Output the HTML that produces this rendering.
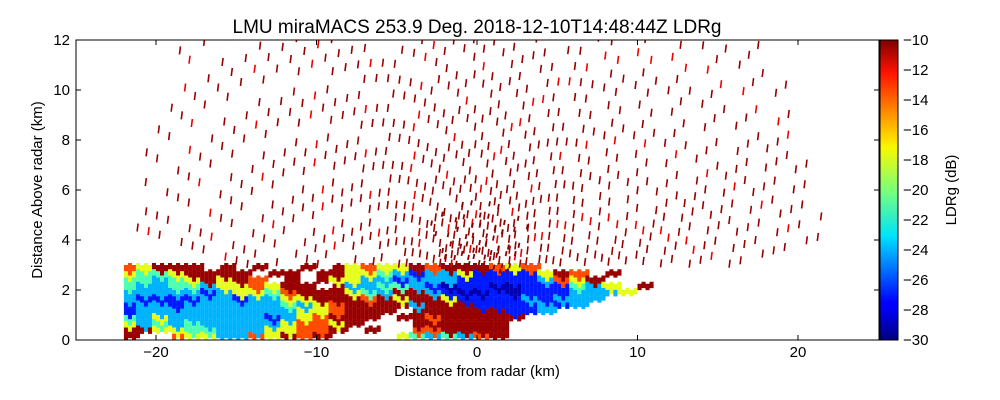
<!DOCTYPE html>
<html><head><meta charset="utf-8"><style>
body{margin:0;background:#fff;font-family:"Liberation Sans","DejaVu Sans",sans-serif}
svg{display:block}
</style></head><body>
<svg id="c" width="1000" height="400" xmlns="http://www.w3.org/2000/svg">
<defs><linearGradient id="jet" x1="0" y1="1" x2="0" y2="0">
<stop offset="0" stop-color="#00007f"/><stop offset="0.11" stop-color="#0000ff"/><stop offset="0.125" stop-color="#0000ff"/><stop offset="0.34" stop-color="#00dcff"/><stop offset="0.35" stop-color="#00e5f7"/><stop offset="0.5" stop-color="#7cff79"/><stop offset="0.64" stop-color="#f7f900"/><stop offset="0.66" stop-color="#ffe800"/><stop offset="0.89" stop-color="#ff1300"/><stop offset="1" stop-color="#7f0000"/></linearGradient>
<clipPath id="pc"><rect x="76" y="40" width="803" height="300"/></clipPath></defs>
<text x="477" y="33" font-size="19" text-anchor="middle">LMU miraMACS 253.9 Deg. 2018-12-10T14:48:44Z  LDRg</text>
<g id="marks" clip-path="url(#pc)"></g>
<rect x="76" y="40" width="803" height="300" fill="none" stroke="#000"/>
<g id="axes" font-size="15"></g>
<text x="477" y="376" font-size="15" text-anchor="middle">Distance from radar (km)</text>
<text transform="translate(42,190) rotate(-90)" font-size="15" text-anchor="middle">Distance Above radar  (km)</text>
<rect x="880" y="40" width="18" height="300" fill="url(#jet)" stroke="#000"/>
<text transform="translate(956,190) rotate(-90)" font-size="15" text-anchor="middle">LDRg (dB)</text>
</svg>
<script>
const xTicks=[-20,-10,0,10,20];
const yTicks=[0,2,4,6,8,10,12];
const cbTicks=[-10,-12,-14,-16,-18,-20,-22,-24,-26,-28,-30];
const layerX0=-22;
const layerRows=[ // rows from y=2.75 down to 0, 0.25 km tall, 1 km columns from x=-22
"oyrrr.r.r..r.ryoyyrorrroyo........",
"yggyrrrr.rr.rryygcbccybbbbyro.r...",
"ggcgyryro.r.ryyccbcccbbbbbcoyr....",
"gccggcyyoyrr.rccggcbnbbnnbbbgcy.r.",
"cccccbcyygorrrygcrrcbnnbnbbbcccy..",
"cbbbbccbccyyrrroryrrybbbbcbccc....",
"bccbccccccgcyorrrrcrrrbbbbcbc.....",
"bccccccccccyyorrr.rrrrrrbbc.......",
"gcyccccccbcyorrr.rrorrrrr.........",
"ycgcgcccccyooyr...rrrrrr..........",
"rryyggcccyyoor.r..oorrrr..........",
"r..oyyccoyror....ygcgcor.........."];
const codeVals={r:-10.5,o:-14,y:-18,g:-21,c:-24,b:-27,n:-29};
const beamAngles=[11,13,15,17,19,21,23,25,28,31,34,37,40,43,46,49,52,55,58,61,64,67,70,73,76,79,82,85,88,91,94,97,100,103,106,109,112,115,118,121,124,127,130,133,136,139,142,145,148,151,154,157,160,163,166,168];
const gateRanges=[3.4,4.1,4.8,5.5,6.2,6.9,7.6,8.3,9.0,9.7,10.4,11.1,11.8,12.5,13.2,13.9,14.6,15.3,16.0,16.7,17.4,18.1,18.8,19.5,20.2,20.9,21.6];
const X=v=>477+v*16.05, Y=v=>340-v*25;
function jet(v){let t=(v+30)/20;t=Math.max(0,Math.min(1,t));
 const f=(a)=>Math.max(0,Math.min(1,1.5-Math.abs(4*t-a)));
 return `rgb(${Math.round(255*f(3))},${Math.round(255*f(2))},${Math.round(255*f(1))})`;}
const NS="http://www.w3.org/2000/svg";
const marks=document.getElementById('marks');
function mk(tag,attrs,parent){const e=document.createElementNS(NS,tag);for(const k in attrs)e.setAttribute(k,attrs[k]);parent.appendChild(e);return e;}
function code(ri,i){if(ri<0||ri>=layerRows.length)return '.';const r=layerRows[ri];return (i<0||i>=r.length)?'.':r[i];}
// layer cells with 4 sub-columns mixing neighbouring cells for texture
layerRows.forEach((row,ri)=>{const yb=(layerRows.length-1-ri)*0.25;
 for(let i=0;i<row.length;i++){const c=row[i];if(c==='.')continue;
  const subs=[c,code(ri-1,i),c,code(ri,i+1)];
  for(let j=0;j<4;j++){let s=subs[j];if(s==='.')s=c;
   const hOff=(j%2)*2;
   const r=mk('rect',{x:X(layerX0+i)+j*4,y:Y(yb+0.25)-hOff,width:4.1,height:6.4,fill:jet(codeVals[s])},marks);
   
   }}});
// speckle along beams: short near-vertical dashes
beamAngles.forEach((a,bi)=>{const rad=a*Math.PI/180;const off=((bi*37)%70)/100;
 gateRanges.forEach((rg,gi)=>{const r=rg+off;const x=r*Math.cos(rad),y=r*Math.sin(rad);
  if(y>12.2||y<3)return;if(r>22)return;
  if((bi+gi*3)%4===0)return;
  const l=mk('line',{x1:X(x),y1:Y(y-0.16),x2:X(x)+1,y2:Y(y+0.16),stroke:((bi+gi)%7===3)?'#e00':'#960000','stroke-width':1.6},marks);
  
  });});
// dense near-origin clutter
const clutterAngles=[55,62,70,76,82,88,94,100,106,114,122];
const clutterRanges=[3.0,3.25,3.5,3.8,4.1,4.5,4.9,5.4];
clutterAngles.forEach((a,ai)=>{const rad=a*Math.PI/180;clutterRanges.forEach((r,ri)=>{
 if((ai+ri)%3===0)return;
 const x=r*Math.cos(rad),y=r*Math.sin(rad);
 const l=mk('line',{x1:X(x),y1:Y(y),x2:X(x)+1,y2:Y(y+0.2),stroke:'#8b0000','stroke-width':1.8},marks);
 
 });});
// axes
const ax=document.getElementById('axes');
xTicks.forEach(v=>{const x=X(v);
 mk('line',{x1:x,y1:340,x2:x,y2:335,stroke:'#000'},ax);mk('line',{x1:x,y1:40,x2:x,y2:45,stroke:'#000'},ax);
 const t=mk('text',{x:x,y:357,'text-anchor':'middle'},ax);t.textContent=v<0?'\u2212'+(-v):v;
 
 });
yTicks.forEach(v=>{const y=Y(v);
 mk('line',{x1:76,y1:y,x2:81,y2:y,stroke:'#000'},ax);mk('line',{x1:879,y1:y,x2:874,y2:y,stroke:'#000'},ax);
 const t=mk('text',{x:70,y:y+5,'text-anchor':'end'},ax);t.textContent=v;
 
 });
cbTicks.forEach(v=>{const y=40+(-10-v)*15;
 mk('line',{x1:893,y1:y,x2:898,y2:y,stroke:'#000'},ax);
 const t=mk('text',{x:903,y:y+5},ax);t.textContent='\u2212'+(-v);
 
 });
</script>
</body></html>
